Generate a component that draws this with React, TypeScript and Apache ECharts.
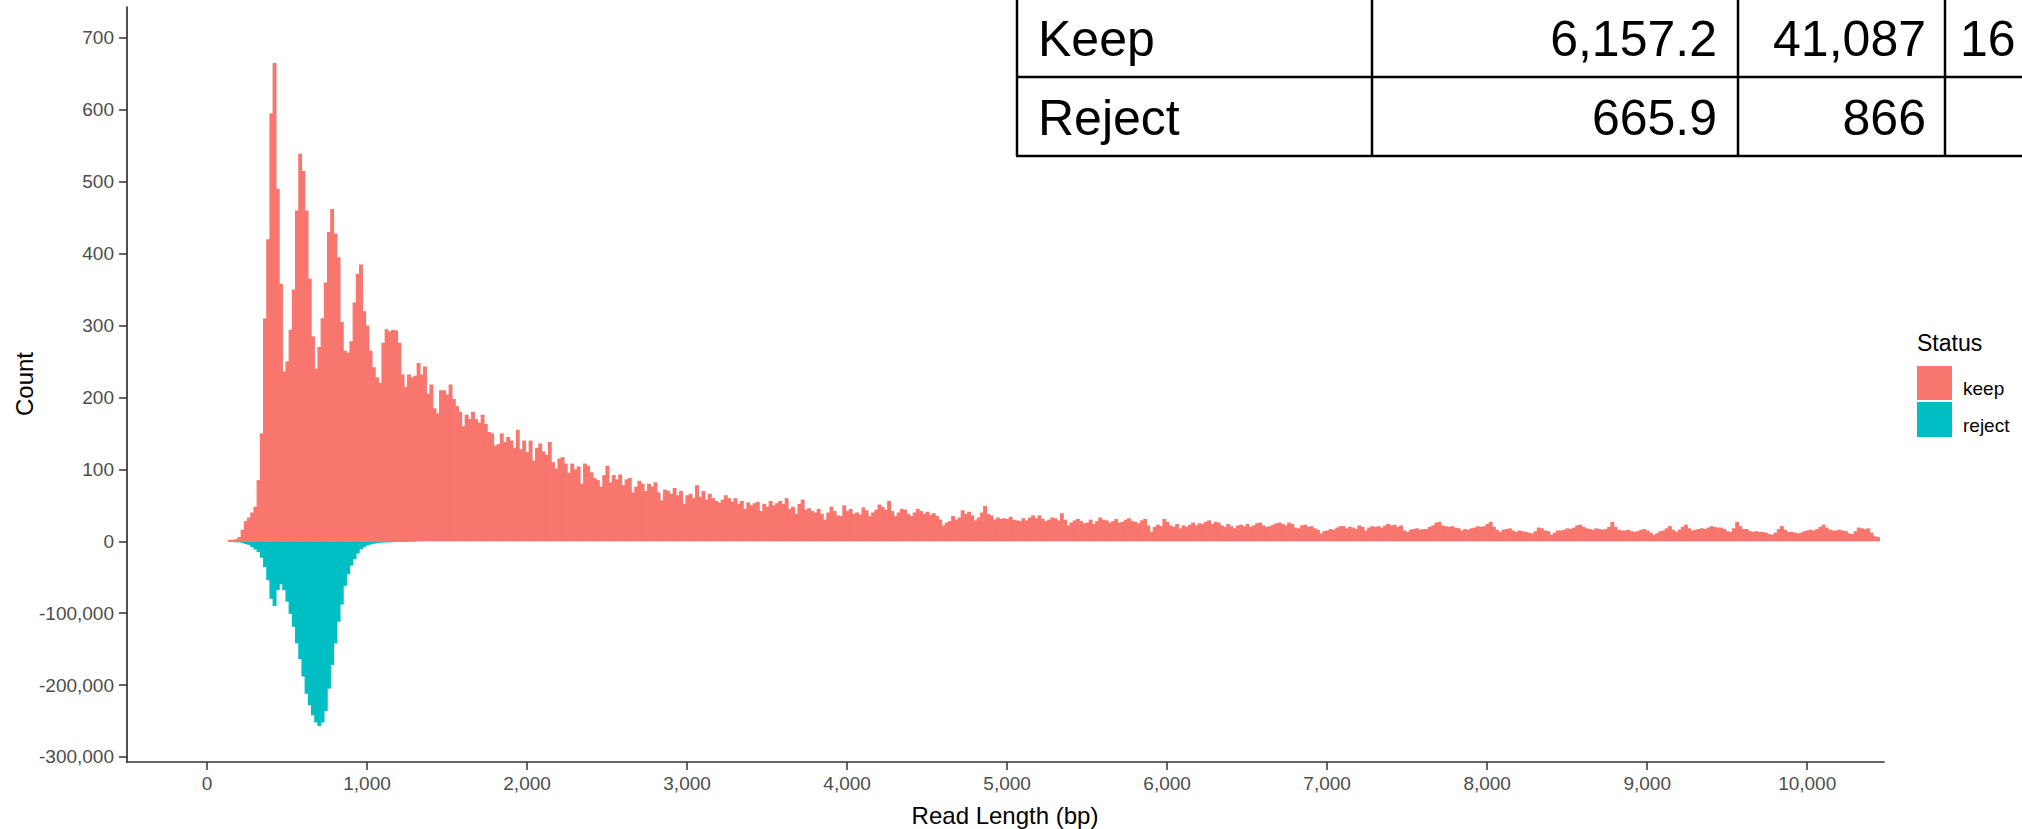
import React, { useEffect, useRef } from "react";
import * as echarts from "echarts";

// ---- data ----
const BIN_START = 130; // bp, first histogram bin
const BIN_WIDTH = 20; // bp

// Count of kept reads per 20 bp bin (bin centres 140 .. 10440 bp)
const keepCounts = [
  // 140 - 980
  2, 2, 3, 6, 16, 28, 33, 40, 48, 85,
  150, 310, 420, 595, 665, 490, 358, 236, 250, 294,
  350, 460, 539, 515, 460, 365, 285, 240, 270, 310,
  360, 430, 462, 428, 395, 305, 265, 262, 278, 332,
  372, 385, 320,
  // 1000 - 1980
  300, 265, 242, 228, 220, 276, 295, 292, 294, 293,
  276, 232, 215, 232, 228, 230, 248, 232, 243, 205,
  218, 185, 178, 210, 210, 204, 218, 198, 188, 180,
  160, 176, 170, 180, 170, 165, 176, 163, 152, 150,
  133, 135, 150, 138, 145, 140, 130, 155, 128, 140,
  // 2000 - 2980
  124, 140, 112, 130, 136, 125, 120, 138, 110, 101,
  115, 117, 108, 95, 108, 100, 104, 80, 108, 105,
  96, 88, 85, 76, 92, 105, 82, 92, 86, 93,
  78, 86, 88, 68, 76, 84, 80, 70, 80, 76,
  82, 68, 57, 72, 70, 66, 74, 64, 70, 52,
  // 3000 - 3980
  64, 66, 60, 78, 62, 70, 58, 66, 60, 56,
  54, 58, 64, 60, 55, 60, 52, 56, 45, 54,
  50, 53, 55, 42, 52, 48, 56, 50, 53, 56,
  52, 60, 45, 48, 38, 52, 58, 44, 46, 42,
  40, 45, 38, 30, 40, 48, 42, 36, 35, 50,
  // 4000 - 4980
  42, 45, 38, 40, 37, 47, 43, 35, 40, 44,
  51, 48, 44, 56, 42, 35, 40, 45, 44, 38,
  35, 40, 45, 42, 38, 41, 37, 39, 35, 30,
  22, 26, 28, 35, 30, 33, 43, 38, 41, 36,
  29, 33, 40, 49, 38, 36, 30, 33, 31, 32,
  // 5000 - 5980
  31, 34, 30, 29, 28, 32, 29, 33, 36, 32,
  36, 31, 28, 30, 33, 32, 29, 39, 30, 22,
  26, 29, 31, 28, 25, 26, 30, 24, 28, 33,
  30, 29, 26, 28, 31, 26, 27, 30, 32, 28,
  27, 25, 29, 31, 22, 13, 20, 23, 21, 31,
  // 6000 - 6980
  27, 22, 20, 24, 18, 22, 20, 23, 26, 22,
  25, 24, 27, 29, 24, 27, 26, 22, 20, 24,
  21, 18, 22, 23, 21, 24, 20, 22, 25, 26,
  22, 20, 21, 23, 25, 26, 24, 22, 26, 24,
  19, 18, 22, 23, 20, 21, 18, 16, 11, 14,
  // 7000 - 7980
  15, 17, 16, 19, 21, 21, 18, 20, 19, 17,
  22, 20, 15, 19, 21, 20, 21, 19, 22, 24,
  22, 23, 20, 22, 15, 13, 16, 17, 18, 16,
  17, 17, 20, 22, 26, 27, 22, 21, 20, 21,
  19, 18, 15, 17, 16, 18, 19, 21, 20, 21,
  // 8000 - 8980
  24, 27, 20, 16, 13, 16, 17, 18, 15, 13,
  15, 14, 13, 12, 11, 14, 19, 18, 15, 14,
  9, 12, 15, 15, 16, 18, 17, 19, 22, 23,
  20, 18, 17, 16, 18, 17, 16, 17, 20, 27,
  20, 16, 15, 15, 16, 14, 13, 14, 16, 17,
  // 9000 - 9980
  15, 12, 9, 11, 14, 15, 18, 21, 16, 13,
  16, 20, 23, 18, 15, 16, 17, 18, 17, 19,
  21, 20, 19, 19, 17, 14, 13, 18, 27, 21,
  17, 17, 14, 13, 14, 13, 13, 12, 10, 9,
  12, 17, 21, 16, 13, 13, 12, 11, 12, 14,
  // 10000 - 10440
  15, 16, 15, 17, 20, 23, 19, 16, 15, 15,
  16, 15, 14, 11, 10, 14, 19, 18, 17, 18,
  12, 7, 6,
];

// Count of rejected reads per 20 bp bin (bin centres 140 .. 1300 bp), drawn downwards
const rejectCounts = [
  -1000, -1000, -1500, -1500, -2500, -4000, -5000, -8000, -11500, -15000,
  -23000, -36000, -54000, -80000, -90000, -68000, -60000, -68000, -84000, -101000,
  -119000, -142000, -164000, -188000, -212000, -228000, -242000, -252000, -257000, -252000,
  -236000, -205000, -172000, -142000, -112000, -88000, -62000, -46000, -34000, -25000,
  -17000, -11000, -8000, -6000, -4500, -3500, -2500, -2000, -2000, -1500,
  -1500, -1200, -1000, -1000, -1000, -800, -800, -600, -500,
];

const REJECT_SCALE = 1000; // reject counts are shown in thousands on the lower half

const xTicks = [0, 1000, 2000, 3000, 4000, 5000, 6000, 7000, 8000, 9000, 10000];
const yTicks = [-300, -200, -100, 0, 100, 200, 300, 400, 500, 600, 700];

const legendTitle = "Status";
const seriesNames = ["keep", "reject"];
const seriesColors = ["#F8766D", "#00BFC4"];

const tableRows = [
  ["Keep", "6,157.2", "41,087", "16"],
  ["Reject", "665.9", "866", ""],
];

// ---- chart ----
const FONT = '"Liberation Sans", Arial, sans-serif';

function binData(values: number[], scale: number) {
  return values.map((v, i) => {
    const x0 = BIN_START + i * BIN_WIDTH;
    return [x0, x0 + BIN_WIDTH, v / scale];
  });
}

function makeRender(color: string) {
  return (_params: any, api: any) => {
    const x0 = api.value(0);
    const x1 = api.value(1);
    const v = api.value(2);
    const a = api.coord([x0, v]);
    const b = api.coord([x1, 0]);
    const y = Math.min(a[1], b[1]);
    const h = Math.abs(b[1] - a[1]);
    return {
      type: "rect",
      shape: { x: a[0], y, width: b[0] - a[0] + 0.7, height: h },
      style: { fill: color },
    };
  };
}

function txt(
  text: string,
  x: number,
  y: number,
  size: number,
  color: string,
  align: string,
  extra: any = {}
) {
  return {
    type: "text",
    x,
    y,
    z: 100,
    silent: true,
    ...extra,
    style: {
      text,
      x: 0,
      y: 0,
      fill: color,
      fontSize: size,
      fontFamily: FONT,
      align,
      textAlign: align,
      verticalAlign: "middle",
      textVerticalAlign: "middle",
    },
  };
}

function line(x1: number, y1: number, x2: number, y2: number, w = 2.5) {
  return {
    type: "line",
    z: 101,
    silent: true,
    shape: { x1, y1, x2, y2 },
    style: { stroke: "#000000", lineWidth: w },
  };
}

export default function App() {
  const ref = useRef<HTMLDivElement>(null);

  useEffect(() => {
    if (!ref.current) return;
    const chart = echarts.init(ref.current, undefined, { renderer: "svg" });

    // table geometry
    const tl = 1017, c2 = 1372, c3 = 1738, c4 = 1945, r1 = 77, r2 = 156;
    const tableGraphics: any[] = [
      { type: "rect", z: 99, silent: true, shape: { x: tl, y: -5, width: 2030 - tl, height: r2 + 5 }, style: { fill: "#ffffff" } },
      line(tl, -5, tl, r2),
      line(c2, -5, c2, r2),
      line(c3, -5, c3, r2),
      line(c4, -5, c4, r2),
      line(tl - 1, r1, 2030, r1),
      line(tl - 1, r2, 2030, r2),
    ];
    const rowY = [39, 118];
    tableRows.forEach((row, i) => {
      tableGraphics.push(txt(row[0], tl + 21, rowY[i], 50, "#000000", "left"));
      tableGraphics.push(txt(row[1], c3 - 21, rowY[i], 50, "#000000", "right"));
      tableGraphics.push(txt(row[2], c4 - 19, rowY[i], 50, "#000000", "right"));
      if (row[3]) tableGraphics.push(txt(row[3], c4 + 15, rowY[i], 50, "#000000", "left"));
    });

    const legendGraphics: any[] = [
      txt(legendTitle, 1917, 343, 23, "#000000", "left"),
      { type: "rect", z: 100, silent: true, shape: { x: 1917, y: 366, width: 35, height: 34 }, style: { fill: seriesColors[0] } },
      { type: "rect", z: 100, silent: true, shape: { x: 1917, y: 402, width: 35, height: 35 }, style: { fill: seriesColors[1] } },
      txt(seriesNames[0], 1963, 388, 19, "#000000", "left"),
      txt(seriesNames[1], 1963, 425, 19, "#000000", "left"),
    ];

    const axisTitles: any[] = [
      txt("Count", 24, 384, 24, "#000000", "center", { rotation: Math.PI / 2 }),
      txt("Read Length (bp)", 1005, 815, 24, "#000000", "center"),
    ];

    const labelStyle = { color: "#4D4D4D", fontSize: 19, fontFamily: FONT };
    const axisLineStyle = { color: "#333333", width: 1.7 };

    chart.setOption({
      animation: false,
      backgroundColor: "#ffffff",
      grid: { left: 127, top: 7, width: 1757, height: 755, containLabel: false },
      xAxis: {
        type: "value",
        min: -500,
        max: 10480,
        splitLine: { show: false },
        axisLine: { show: true, onZero: false, lineStyle: axisLineStyle },
        axisTick: { show: true, length: 8, lineStyle: { color: "#333333", width: 1.5 }, customValues: xTicks },
        axisLabel: {
          ...labelStyle,
          margin: 12,
          customValues: xTicks,
          formatter: (v: number) => v.toLocaleString("en-US"),
        },
      },
      yAxis: {
        type: "value",
        min: -307,
        max: 743,
        splitLine: { show: false },
        axisLine: { show: true, onZero: false, lineStyle: axisLineStyle },
        axisTick: { show: true, length: 8, lineStyle: { color: "#333333", width: 1.5 }, customValues: yTicks },
        axisLabel: {
          ...labelStyle,
          margin: 13,
          customValues: yTicks,
          formatter: (v: number) =>
            v < 0 ? Math.round(v * REJECT_SCALE).toLocaleString("en-US") : String(v),
        },
      },
      series: [
        {
          name: seriesNames[0],
          type: "custom",
          renderItem: makeRender(seriesColors[0]),
          data: binData(keepCounts, 1),
          encode: { x: [0, 1], y: 2 },
          clip: true,
          silent: true,
        },
        {
          name: seriesNames[1],
          type: "custom",
          renderItem: makeRender(seriesColors[1]),
          data: binData(rejectCounts, REJECT_SCALE),
          encode: { x: [0, 1], y: 2 },
          clip: true,
          silent: true,
        },
      ],
      graphic: [...axisTitles, ...legendGraphics, ...tableGraphics],
    });

    return () => chart.dispose();
  }, []);

  return (
    <div
      ref={ref}
      style={{ position: "fixed", left: 0, top: 0, width: 2022, height: 829, background: "#fff" }}
    />
  );
}
